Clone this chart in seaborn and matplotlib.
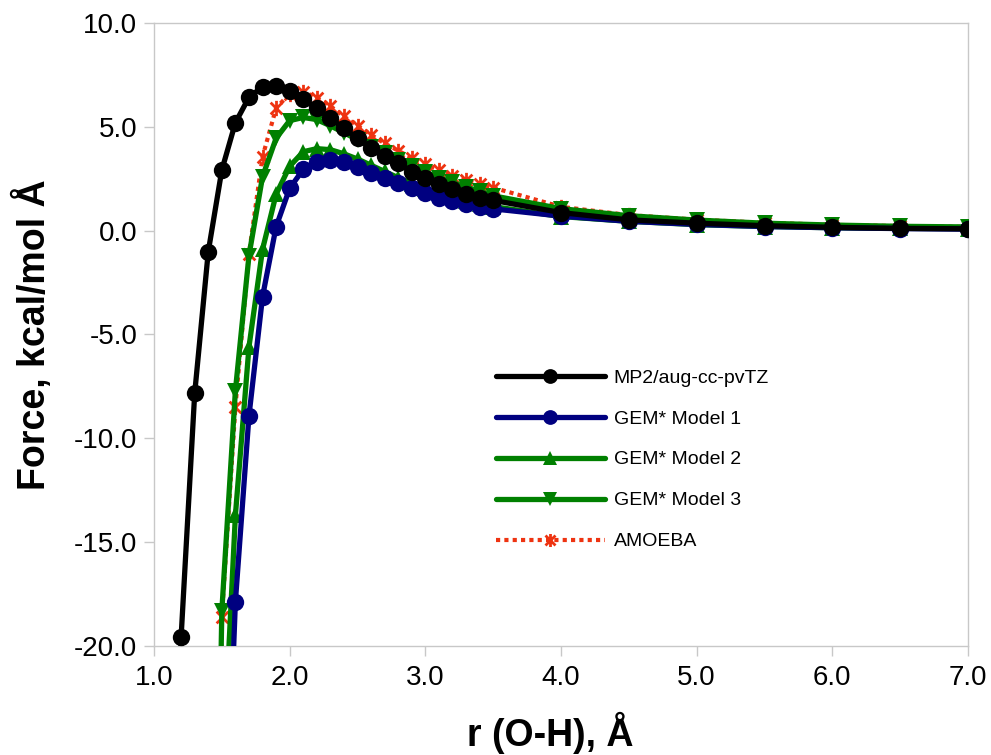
import numpy as np
import pandas as pd
import matplotlib
matplotlib.use("Agg")
import matplotlib.pyplot as plt
from matplotlib.path import Path
from matplotlib.ticker import FormatStrFormatter
import seaborn as sns

# ---------------- data ----------------
r_mp2 = [1.1, 1.2, 1.3, 1.4, 1.5, 1.6, 1.7, 1.8, 1.9, 2.0, 2.1, 2.2, 2.3, 2.4, 2.5, 2.6,
         2.7, 2.8, 2.9, 3.0, 3.1, 3.2, 3.3, 3.4, 3.5, 4.0, 4.5, 5.0, 5.5, 6.0, 6.5, 7.0]
f_mp2 = [-50.0, -19.55, -7.83, -1.01, 2.92, 5.2, 6.42, 6.93, 6.97, 6.73, 6.33, 5.89, 5.41,
         4.93, 4.45, 3.97, 3.60, 3.24, 2.84, 2.52, 2.23, 1.99, 1.75, 1.59, 1.46,
         0.87, 0.52, 0.36, 0.24, 0.16, 0.11, 0.09]

r_gem = [1.5, 1.6, 1.7, 1.8, 1.9, 2.0, 2.1, 2.2, 2.3, 2.4, 2.5, 2.6, 2.7, 2.8, 2.9,
         3.0, 3.1, 3.2, 3.3, 3.4, 3.5, 4.0, 4.5, 5.0, 5.5, 6.0, 6.5, 7.0]
f_gem1 = [-35.0, -17.86, -8.92, -3.18, 0.19, 2.04, 2.95, 3.32, 3.40, 3.32, 3.08, 2.80,
          2.52, 2.28, 2.04, 1.80, 1.59, 1.43, 1.29, 1.16, 1.05,
          0.70, 0.45, 0.30, 0.20, 0.14, 0.10, 0.07]
f_gem2 = [-27.0, -13.7, -5.6, -0.9, 1.75, 3.1, 3.8, 3.95, 3.9, 3.7, 3.45, 3.15, 2.85,
          2.55, 2.27, 2.02, 1.80, 1.62, 1.45, 1.30, 1.16,
          0.68, 0.45, 0.29, 0.20, 0.14, 0.11, 0.10]

r_low = [1.4, 1.5, 1.6, 1.7, 1.8, 1.9, 2.0, 2.1, 2.2, 2.3, 2.4, 2.5, 2.6, 2.7, 2.8, 2.9,
         3.0, 3.1, 3.2, 3.3, 3.4, 3.5, 4.0, 4.5, 5.0, 5.5, 6.0, 6.5, 7.0]
f_gem3 = [-55.0, -18.3, -7.7, -1.2, 2.6, 4.45, 5.3, 5.45, 5.35, 5.05, 4.72, 4.38, 4.05,
          3.72, 3.40, 3.10, 2.82, 2.56, 2.32, 2.10, 1.90, 1.68,
          1.06, 0.72, 0.51, 0.36, 0.27, 0.21, 0.18]
f_amoeba = [-60.0, -18.6, -8.5, -1.1, 3.56, 5.9, 6.6, 6.7, 6.4, 6.0, 5.5, 5.05, 4.62,
            4.2, 3.85, 3.5, 3.2, 2.9, 2.65, 2.42, 2.25, 2.07,
            1.15, 0.75, 0.53, 0.38, 0.28, 0.22, 0.18]

labels = ["MP2/aug-cc-pvTZ", "GEM* Model 1", "GEM* Model 2", "GEM* Model 3", "AMOEBA"]
x_ticks = [1.0, 2.0, 3.0, 4.0, 5.0, 6.0, 7.0]
y_ticks = [-20.0, -15.0, -10.0, -5.0, 0.0, 5.0, 10.0]

# ---------------- style ----------------
sns.set_theme(style="white")
plt.rcParams['font.family'] = ['Liberation Sans', 'DejaVu Sans']
plt.rcParams['axes.unicode_minus'] = False
plt.rcParams['text.color'] = 'black'
plt.rcParams['axes.labelcolor'] = 'black'

fig = plt.figure(figsize=(9.91, 7.55), dpi=100)
ax = fig.add_axes([154 / 991, 1 - 646 / 755, (968 - 154) / 991, (646 - 23) / 755])

asterisk = Path([(-1, -1), (1, 1), (-1, 1), (1, -1), (0, -1.3), (0, 1.3)],
                [Path.MOVETO, Path.LINETO, Path.MOVETO, Path.LINETO, Path.MOVETO, Path.LINETO])

red = '#EE3311'
navy = '#000080'
green = '#008000'

sns.lineplot(x=r_low, y=f_amoeba, ax=ax, color=red, lw=3.0, linestyle=(0, (1, 1)),
             marker=asterisk, markersize=11, markeredgewidth=2.0, markeredgecolor=red,
             label=labels[4], zorder=2, sort=False)
sns.lineplot(x=r_low, y=f_gem3, ax=ax, color=green, lw=3.8, marker='v', markersize=11.5,
             markeredgewidth=0, label=labels[3], zorder=3, sort=False)
sns.lineplot(x=r_gem, y=f_gem2, ax=ax, color=green, lw=3.8, marker='^', markersize=11.5,
             markeredgewidth=0, label=labels[2], zorder=4, sort=False)
sns.lineplot(x=r_gem, y=f_gem1, ax=ax, color=navy, lw=3.8, marker='o', markersize=12.5,
             markeredgewidth=0, label=labels[1], zorder=5, sort=False)
sns.lineplot(x=r_mp2, y=f_mp2, ax=ax, color='black', lw=3.8, marker='o', markersize=12.5,
             markeredgewidth=0, label=labels[0], zorder=6, sort=False)

ax.set_xlim(1.0, 7.0)
ax.set_ylim(-20.0, 10.0)
ax.set_xticks(x_ticks)
ax.set_yticks(y_ticks)
ax.xaxis.set_major_formatter(FormatStrFormatter('%.1f'))
ax.yaxis.set_major_formatter(FormatStrFormatter('%.1f'))
ax.tick_params(axis='both', which='major', direction='out', length=7, width=1,
               color='#C8C8C8', labelsize=20, labelcolor='black',
               bottom=True, left=True, top=False, right=False)
ax.tick_params(axis='x', pad=7)
ax.tick_params(axis='y', pad=5)
for s in ax.spines.values():
    s.set_color('#C8C8C8')
    s.set_linewidth(1.0)
    s.set_visible(True)
ax.grid(False)

ax.set_xlabel("r (O-H), Å", fontsize=27, fontweight='bold', color='black')
ax.set_ylabel("Force, kcal/mol Å", fontsize=27, fontweight='bold', color='black')
ax.xaxis.label.set_va('baseline')
ax.yaxis.label.set_va('baseline')
ax.xaxis.set_label_coords(0.487, (646 - 746) / 623)
ax.yaxis.set_label_coords((45 - 154) / 814, 0.5)

handles, labs = ax.get_legend_handles_labels()
order = [labs.index(l) for l in labels]
leg = ax.legend([handles[i] for i in order], [labs[i] for i in order],
                loc='upper left', bbox_to_anchor=((496 - 154) / 814, (646 - 369) / 623),
                frameon=False, fontsize=14, handlelength=5.6, handletextpad=0.45,
                labelspacing=1.2, borderpad=0, borderaxespad=0, markerscale=0.85,
                labelcolor='black')

fig.savefig("out.png", dpi=100)
